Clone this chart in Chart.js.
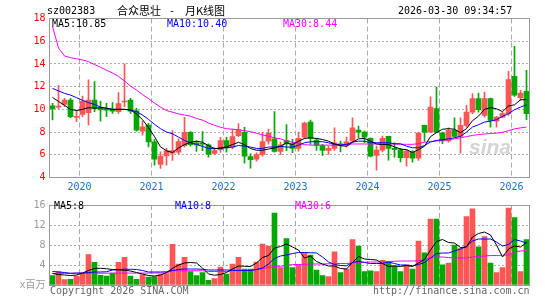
<!DOCTYPE html>
<html lang="zh-CN">
<head>
<meta charset="UTF-8">
<title>合众思壮 - 月K线图</title>
<script src="https://cdn.jsdelivr.net/npm/chart.js"></script>
<style>
  body { margin: 0; background: #fff; }
  #wrap { position: relative; width: 545px; height: 300px; overflow: hidden;
          font-family: "DejaVu Sans Mono", monospace; font-size: 10px; color: #000; }
  #wrap canvas { position: absolute; left: 0; }
  .t { position: absolute; white-space: pre; line-height: 10px; }
  .cn { font-family: "Noto Sans CJK SC", sans-serif; font-size: 11px; line-height: 12px; }
</style>
</head>
<body>
<div id="wrap">
  <canvas id="kChart" width="545" height="200" style="top:0"></canvas>
  <canvas id="volChart" width="545" height="100" style="top:195px"></canvas>

  <div class="t" style="left:47px;top:6px">sz002383</div>
  <div class="t cn" style="left:117px;top:4px">合众思壮</div>
  <div class="t" style="left:169px;top:6px">-</div>
  <div class="t cn" style="left:185px;top:4px">月K线图</div>
  <div class="t" style="left:398px;top:6px">2026-03-30 09:34:57</div>

  <div class="t" id="lgMa5" style="left:52px;top:19px;color:#000"></div>
  <div class="t" id="lgMa10" style="left:167px;top:19px;color:#0000ff"></div>
  <div class="t" id="lgMa30" style="left:283px;top:19px;color:#ff00ff"></div>

  <div class="t" style="left:469px;top:136px;font:italic bold 21px 'Liberation Sans',sans-serif;line-height:22px;color:#d4d4d4">sina</div>

  <div class="t" id="lgVol5" style="left:54px;top:201px;color:#000"></div>
  <div class="t" id="lgVol10" style="left:175px;top:201px;color:#0000ff"></div>
  <div class="t" id="lgVol30" style="left:295px;top:201px;color:#ff00ff"></div>

  <div class="t" style="left:50px;top:286px;color:#666">Copyright 2026 SINA.COM</div>
  <div class="t" style="left:373px;top:286px;color:#666">http://finance.sina.com.cn</div>
</div>

<script>
// monthly candles, 2019-08 .. 2026-03
var months = [
  '2019-08','2019-09','2019-10','2019-11','2019-12',
  '2020-01','2020-02','2020-03','2020-04','2020-05','2020-06','2020-07','2020-08','2020-09','2020-10','2020-11','2020-12',
  '2021-01','2021-02','2021-03','2021-04','2021-05','2021-06','2021-07','2021-08','2021-09','2021-10','2021-11','2021-12',
  '2022-01','2022-02','2022-03','2022-04','2022-05','2022-06','2022-07','2022-08','2022-09','2022-10','2022-11','2022-12',
  '2023-01','2023-02','2023-03','2023-04','2023-05','2023-06','2023-07','2023-08','2023-09','2023-10','2023-11','2023-12',
  '2024-01','2024-02','2024-03','2024-04','2024-05','2024-06','2024-07','2024-08','2024-09','2024-10','2024-11','2024-12',
  '2025-01','2025-02','2025-03','2025-04','2025-05','2025-06','2025-07','2025-08','2025-09','2025-10','2025-11','2025-12',
  '2026-01','2026-02','2026-03'
];

var open = [
  10.32,10.2,10.44,10.82,9.3,9.56,9.7,10.82,10.09,9.97,9.9,9.79,10.65,10.82,9.88,8.09,8.62,7.14,5.15,5.91,
  6.14,6.23,6.81,7.98,7.05,6.98,6.87,6.11,6.46,7.25,6.67,7.69,7.98,5.85,5.61,6.02,7.19,7.4,6.29,7.25,
  6.97,6.56,7.56,8.88,7.29,6.82,6.38,6.56,6.97,6.85,7.21,8.18,8.0,7.44,5.94,6.41,7.62,6.56,6.44,5.74,
  6.24,5.71,8.59,8.0,10.06,7.94,7.21,8.15,7.62,8.59,9.76,10.94,9.47,10.94,8.97,9.32,9.62,12.91,11.03,11.59
];
var high = [
  10.53,12.1,10.97,10.97,9.94,11.18,12.59,12.44,10.73,10.53,10.6,11.47,14.0,10.97,10.09,8.97,8.77,7.35,6.26,6.56,
  8.13,7.4,9.3,8.04,7.22,8.04,6.96,6.64,7.54,7.54,8.27,8.74,8.42,6.08,6.17,7.98,8.27,9.8,7.11,8.65,
  7.35,8.0,8.88,9.06,7.44,6.91,6.76,8.38,7.2,7.56,9.26,8.53,8.09,7.5,6.76,7.65,7.65,7.06,6.56,6.47,
  6.38,8.0,8.62,11.1,11.97,8.0,8.38,9.26,9.26,10.35,11.38,11.44,11.53,11.0,9.38,9.76,13.35,15.56,11.68,13.44
];
var low = [
  9.06,10.05,10.23,9.26,8.91,9.35,8.62,9.79,8.97,9.35,9.65,9.65,10.23,9.65,8.09,7.73,6.7,5.09,4.79,5.09,
  5.5,6.08,6.67,6.75,6.29,6.37,5.79,6.0,6.2,6.23,6.52,7.6,5.26,4.82,5.44,5.85,6.93,6.23,6.0,6.37,
  6.18,6.32,7.44,6.91,6.38,5.94,6.03,6.38,6.26,6.68,7.12,7.5,7.06,5.82,4.65,6.26,5.53,5.79,5.38,5.0,
  5.35,5.5,7.18,8.0,7.94,6.97,7.12,7.56,6.15,8.44,9.62,9.76,9.32,8.44,8.44,9.26,9.47,11.15,10.79,9.09
];
var close = [
  10.06,10.25,10.82,9.35,9.38,10.71,10.82,10.09,9.94,9.92,9.85,10.5,10.73,9.85,8.17,8.47,7.14,5.62,5.88,6.35,
  6.37,7.16,7.98,6.9,6.87,6.93,6.05,6.37,7.25,6.61,7.6,8.19,5.88,5.58,6.02,7.16,7.89,6.29,6.87,6.96,
  6.56,7.44,8.79,7.44,6.82,6.38,6.56,7.06,6.85,7.15,8.38,8.0,7.56,5.88,6.41,7.44,6.56,6.44,5.74,6.32,
  5.71,7.91,8.0,10.2,8.0,7.21,8.15,7.62,8.59,9.76,10.94,9.97,10.94,9.03,9.32,9.62,12.62,11.24,11.44,9.62
];

// moving averages of price
var ma5 = [
  11.05,10.7,10.35,10.0,9.9,10.0,10.15,10.1,10.15,10.1,10.0,10.0,10.0,9.95,9.6,9.1,8.4,7.6,6.7,6.35,
  6.2,6.6,6.9,7.1,7.2,7.1,6.8,6.55,6.55,6.7,6.9,7.1,6.9,6.55,6.4,6.4,6.5,6.6,6.75,7.05,
  6.9,7.2,7.44,7.5,7.44,7.35,7.2,6.97,6.8,6.75,7.1,7.4,7.44,7.2,6.95,6.9,6.9,6.7,6.5,6.45,
  6.2,6.45,6.75,7.6,7.95,8.25,8.3,8.25,7.95,8.3,9.0,9.4,10.0,10.15,10.05,9.8,10.3,10.4,10.85,10.85
];
var ma10 = [
  11.85,11.62,11.41,11.26,11.03,10.8,10.59,10.44,10.2,10.09,10.0,10.0,10.0,9.94,9.8,9.5,9.12,8.68,8.3,8.0,
  7.85,7.56,7.26,7.06,6.91,6.74,6.56,6.53,6.62,6.62,6.68,6.82,6.76,6.68,6.56,6.56,6.68,6.68,6.74,6.68,
  6.68,6.85,7.06,7.15,7.15,7.15,7.06,6.91,6.85,6.91,7.12,7.2,7.2,7.06,7.06,7.06,7.06,6.97,6.97,6.76,
  6.62,6.62,6.82,7.12,7.26,7.32,7.41,7.5,7.62,8.0,8.44,8.65,8.88,8.97,9.09,9.38,9.62,9.97,10.2,10.4
];
var ma30 = [
  17.3,15.4,14.7,14.55,14.45,14.35,14.2,13.95,13.7,13.45,13.2,12.9,12.5,12.05,11.7,11.3,10.95,10.55,10.2,9.9,
  9.75,9.6,9.5,9.4,9.2,9.05,8.8,8.6,8.42,8.3,8.25,8.2,8.12,8.04,7.9,7.75,7.63,7.5,7.4,7.22,
  7.1,7.0,6.9,6.85,6.85,6.85,6.85,6.85,6.88,6.92,6.95,6.95,6.95,6.95,6.95,6.95,6.95,6.95,6.93,6.92,
  6.92,6.98,7.1,7.17,7.22,7.27,7.33,7.4,7.5,7.6,7.7,7.78,7.83,7.87,7.91,7.98,8.12,8.28,8.37,8.44
];

// volume, millions of shares
var volume = [
  1.9,2.7,1.1,1.15,1.8,2.3,6.1,4.55,1.95,1.8,2.4,4.55,5.55,1.8,1.15,2.1,1.6,1.7,2.1,2.3,
  8.15,4.2,5.55,2.7,1.9,2.5,0.95,1.3,3.6,2.2,4.2,5.55,3.2,3.2,4.6,8.2,7.8,14.4,3.5,9.3,
  3.5,4.0,6.4,6.0,3.0,1.9,1.7,6.65,2.5,3.2,9.1,7.8,2.7,2.85,2.7,4.95,4.6,3.85,2.7,4.0,
  3.2,8.8,6.45,13.2,13.2,4.05,4.4,8.0,7.3,13.7,15.25,7.65,9.7,4.4,2.5,3.5,15.4,13.5,2.7,9.1
];
var volMa5 = [
  2.3,2.1,2.0,1.9,2.0,2.4,2.9,3.3,3.35,3.25,3.1,3.0,2.95,2.8,2.5,2.2,1.9,1.8,2.0,2.5,
  3.3,4.0,4.4,4.5,4.4,3.4,2.2,1.95,2.1,2.5,3.2,3.8,3.75,3.7,4.4,5.5,5.9,7.4,7.7,8.2,
  7.6,7.0,5.4,5.8,4.7,4.2,3.8,3.8,3.3,3.2,4.5,5.7,5.2,5.1,5.0,4.3,3.7,3.8,3.7,3.9,
  3.7,4.4,5.1,7.0,8.7,9.1,8.5,8.4,7.5,7.6,9.6,10.3,10.6,10.0,8.0,5.6,7.2,7.8,7.6,8.5
];
var volMa10 = [
  2.7,2.6,2.5,2.35,2.4,2.4,2.5,2.6,2.6,2.65,3.0,3.1,3.15,3.15,3.1,2.9,2.6,2.6,2.6,2.65,
  2.9,3.1,3.2,3.2,3.2,3.15,3.0,3.0,3.0,3.0,2.95,2.9,2.9,2.9,3.1,3.4,4.2,5.3,5.8,6.0,
  6.3,6.5,6.5,6.45,6.4,5.6,4.6,4.1,3.9,3.85,4.5,4.75,4.5,4.3,4.3,4.3,4.6,4.3,4.0,4.0,
  3.85,4.1,4.5,5.4,6.3,6.4,6.4,6.8,7.2,7.7,8.8,9.2,9.2,9.2,8.6,7.8,8.1,9.1,8.8,8.4
];
var volMa30 = [
  2.3,2.3,2.32,2.32,2.34,2.34,2.35,2.35,2.36,2.36,2.37,2.37,2.38,2.38,2.38,2.39,2.39,2.4,2.4,2.4,
  2.85,2.85,2.85,2.85,2.85,2.85,2.7,2.7,2.7,2.7,2.95,2.95,2.95,2.95,3.1,3.3,3.5,3.7,3.75,3.9,
  4.1,4.1,4.15,4.2,4.2,4.2,4.25,4.3,4.3,4.3,4.4,4.5,4.55,4.6,4.6,4.6,4.7,4.75,4.8,4.8,
  4.8,4.85,5.0,5.45,5.6,5.6,5.5,5.4,5.4,5.4,5.6,5.75,5.8,5.9,5.9,5.95,6.0,6.6,6.8,6.9
];

// axis tick values
var priceTickValues = [4, 6, 8, 10, 12, 14, 16, 18];
var volTickValues = [0, 4, 8, 12, 16];

var UP = '#ff5555', DOWN = '#00a800';
var candleColor = close.map(function (c, i) { return c >= open[i] ? UP : DOWN; });
var body = open.map(function (o, i) { return [o, close[i]]; });
var wick = low.map(function (l, i) { return [l, high[i]]; });

var last = months.length - 1;
document.getElementById('lgMa5').textContent = 'MA5:' + ma5[last].toFixed(2);
document.getElementById('lgMa10').textContent = 'MA10:' + ma10[last].toFixed(2);
document.getElementById('lgMa30').textContent = 'MA30:' + ma30[last].toFixed(2);
document.getElementById('lgVol5').textContent = 'MA5:' + Math.floor(volMa5[last]);
document.getElementById('lgVol10').textContent = 'MA10:' + Math.floor(volMa10[last]);
document.getElementById('lgVol30').textContent = 'MA30:' + Math.floor(volMa30[last]);

Chart.defaults.font.family = '"DejaVu Sans Mono", "Noto Sans CJK SC", monospace';
Chart.defaults.font.size = 10;
Chart.defaults.animation = false;

// grey box round the plot area
var frame = {
  id: 'frame',
  afterDraw: function (chart) {
    var a = chart.chartArea, ctx = chart.ctx;
    ctx.save();
    ctx.strokeStyle = '#999';
    ctx.lineWidth = 1;
    ctx.strokeRect(Math.floor(a.left) + 0.5, Math.floor(a.top) + 0.5,
                   Math.round(a.right - a.left), Math.round(a.bottom - a.top));
    ctx.restore();
  }
};

function isJan(i) { return i !== undefined && months[i] && months[i].slice(5) === '01'; }

function yearAxis(showLabels, height) {
  return {
    type: 'category',
    offset: true,
    grid: {
      offset: true,
      drawTicks: false,
      color: function (ctx) { return isJan(ctx.index) ? '#aaa' : 'rgba(0,0,0,0)'; }
    },
    border: { display: false, dash: [5, 3] },
    ticks: {
      display: showLabels,
      autoSkip: false,
      maxRotation: 0,
      padding: 4,
      labelOffset: -3,
      color: '#1177cc',
      callback: function (v, i) { return isJan(i) ? months[i].slice(0, 4) : ''; }
    },
    afterFit: function (s) { s.height = height; }
  };
}

function valueAxis(values, color, label) {
  var lo = values[0], hi = values[values.length - 1];
  return {
    min: lo, max: hi,
    afterBuildTicks: function (s) {
      s.ticks = values.map(function (v) { return { value: v }; });
    },
    grid: {
      drawTicks: false,
      color: function (ctx) {
        var v = ctx.tick ? ctx.tick.value : null;
        return (v === lo || v === hi || v === null) ? 'rgba(0,0,0,0)' : '#aaa';
      }
    },
    border: { display: false, dash: [2, 2] },
    ticks: { autoSkip: false, padding: 4, color: color, callback: label },
    afterFit: function (s) { s.width = 49.5; }
  };
}

function maLine(data, color) {
  return { type: 'line', data: data, borderColor: color, borderWidth: 1,
           pointRadius: 0, tension: 0, fill: false, order: 0 };
}

new Chart(document.getElementById('kChart'), {
  type: 'bar',
  data: {
    labels: months,
    datasets: [
      maLine(ma5, '#000000'),
      maLine(ma10, '#0000ff'),
      maLine(ma30, '#ff00ff'),
      { data: body, backgroundColor: candleColor, barThickness: 5, minBarLength: 1, grouped: false, order: 1 },
      { data: wick, backgroundColor: candleColor, barThickness: 1, grouped: false, order: 2 }
    ]
  },
  options: {
    responsive: false,
    layout: { padding: { top: 18.5, right: 15.5, left: 0, bottom: 0 } },
    plugins: { legend: { display: false }, tooltip: { enabled: false } },
    scales: {
      x: yearAxis(true, 22.5),
      y: valueAxis(priceTickValues, '#ff0000', function (v) { return v; })
    }
  },
  plugins: [frame]
});

new Chart(document.getElementById('volChart'), {
  type: 'bar',
  data: {
    labels: months,
    datasets: [
      maLine(volMa5, '#000000'),
      maLine(volMa10, '#0000ff'),
      maLine(volMa30, '#ff00ff'),
      { data: volume, backgroundColor: candleColor, barThickness: 5, grouped: false, order: 1 }
    ]
  },
  options: {
    responsive: false,
    layout: { padding: { top: 6.5, right: 15.5, left: 0, bottom: 0 } },
    plugins: { legend: { display: false }, tooltip: { enabled: false } },
    scales: {
      x: yearAxis(false, 9.5),
      y: valueAxis(volTickValues, '#999', function (v) { return v === 0 ? 'x百万' : v; })
    }
  },
  plugins: [frame]
});
</script>
</body>
</html>
